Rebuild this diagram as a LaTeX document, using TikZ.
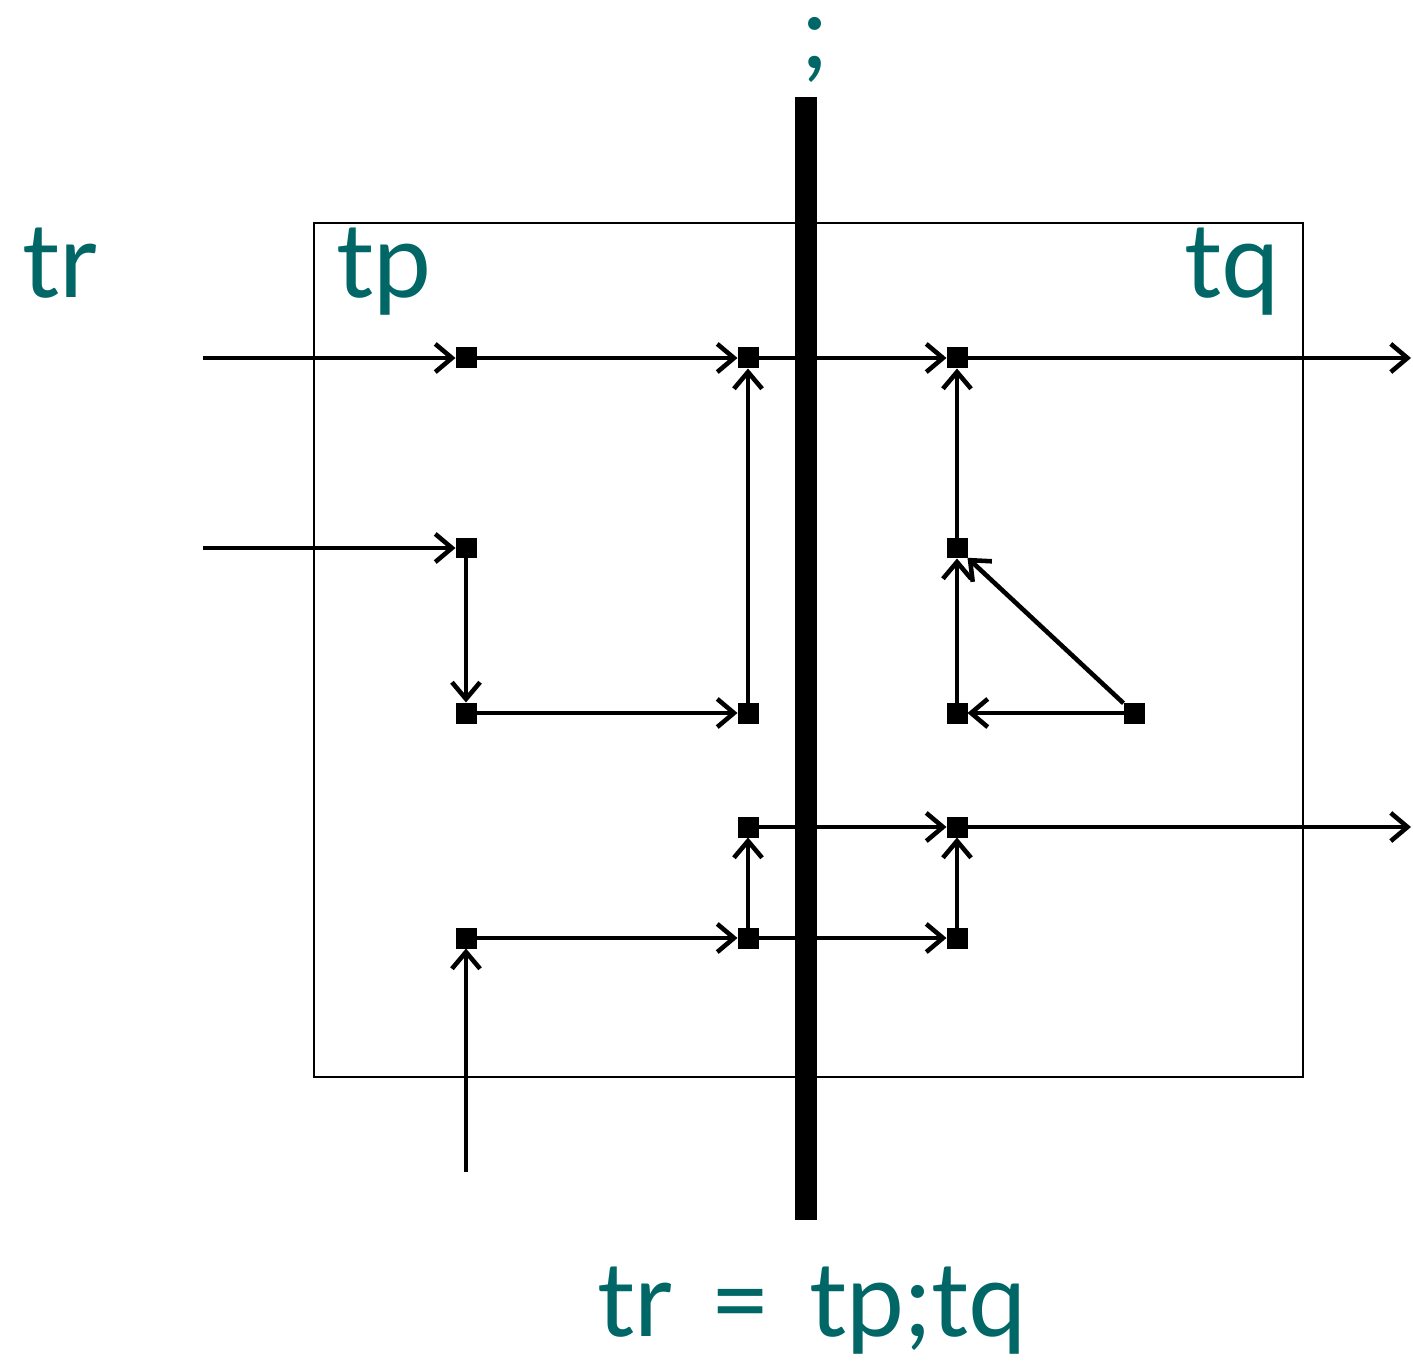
\documentclass[tikz,border=0pt]{standalone}
\usepackage{fontspec}
\setmainfont{Lato}[WordSpace=1.45]
\usetikzlibrary{arrows.meta}
\definecolor{teal}{RGB}{0,102,102}
\tikzset{
  dot/.style={fill=black,draw=none,minimum size=0.42cm,inner sep=0pt,outer sep=0pt},
  conn/.style={line width=2.6pt,-{Straight Barb[length=9.5pt,width=16pt,line width=2.6pt]}},
  lbl/.style={text=teal,font=\fontsize{59}{62}\selectfont,inner sep=0pt}
}
\begin{document}
\begin{tikzpicture}[x=0.02cm,y=-0.02cm]
\useasboundingbox (0,0) rectangle (1413,1361);
% frame
\draw[line width=0.8pt] (314,223) rectangle (1303,1077);
% labels
\node[lbl,anchor=base west] (ltr) at (22,298) {tr};
\node[lbl,anchor=base west] (ltp) at (336,298) {tp};
\node[lbl,anchor=base east] (ltq) at (1280,298) {tq};
\node[lbl,anchor=base] (lsemi) at (815,69) {;};
\node[lbl,anchor=base] (lform) at (812,1336) {tr = tp;tq};
% dots
\node[dot] (A1) at (466,358) {};
\node[dot] (A2) at (748,358) {};
\node[dot] (A3) at (957,358) {};
\node[dot] (B1) at (466,548) {};
\node[dot] (B3) at (957,548) {};
\node[dot] (C1) at (466,713) {};
\node[dot] (C2) at (748,713) {};
\node[dot] (C3) at (957,713) {};
\node[dot] (C4) at (1134,713) {};
\node[dot] (D2) at (748,827) {};
\node[dot] (D3) at (957,827) {};
\node[dot] (E1) at (466,938) {};
\node[dot] (E2) at (748,938) {};
\node[dot] (E3) at (957,938) {};
% free ends
\coordinate (inA) at (203,358);
\coordinate (inB) at (203,548);
\coordinate (inE) at (466,1172);
\coordinate (outA) at (1411,358);
\coordinate (outD) at (1411,827);
% bar
\coordinate (barT) at (806,97);
\coordinate (barB) at (806,1220);
\draw[line width=0.44cm] (barT) -- (barB);
% connectors
\draw[conn] (inA) -- (A1);
\draw[conn] (A1) -- (A2);
\draw[conn] (A2) -- (A3);
\draw[conn] (A3) -- (outA);
\draw[conn] (inB) -- (B1);
\draw[conn] (B1) -- (C1);
\draw[conn] (C1) -- (C2);
\draw[conn] (C2) -- (A2);
\draw[conn] (B3) -- (A3);
\draw[conn] (C3) -- (B3);
\draw[conn] (C4) -- (B3);
\draw[conn] (C4) -- (C3);
\draw[conn] (D2) -- (D3);
\draw[conn] (D3) -- (outD);
\draw[conn] (E2) -- (D2);
\draw[conn] (E3) -- (D3);
\draw[conn] (E1) -- (E2);
\draw[conn] (E2) -- (E3);
\draw[conn] (inE) -- (E1);
\end{tikzpicture}
\end{document}
